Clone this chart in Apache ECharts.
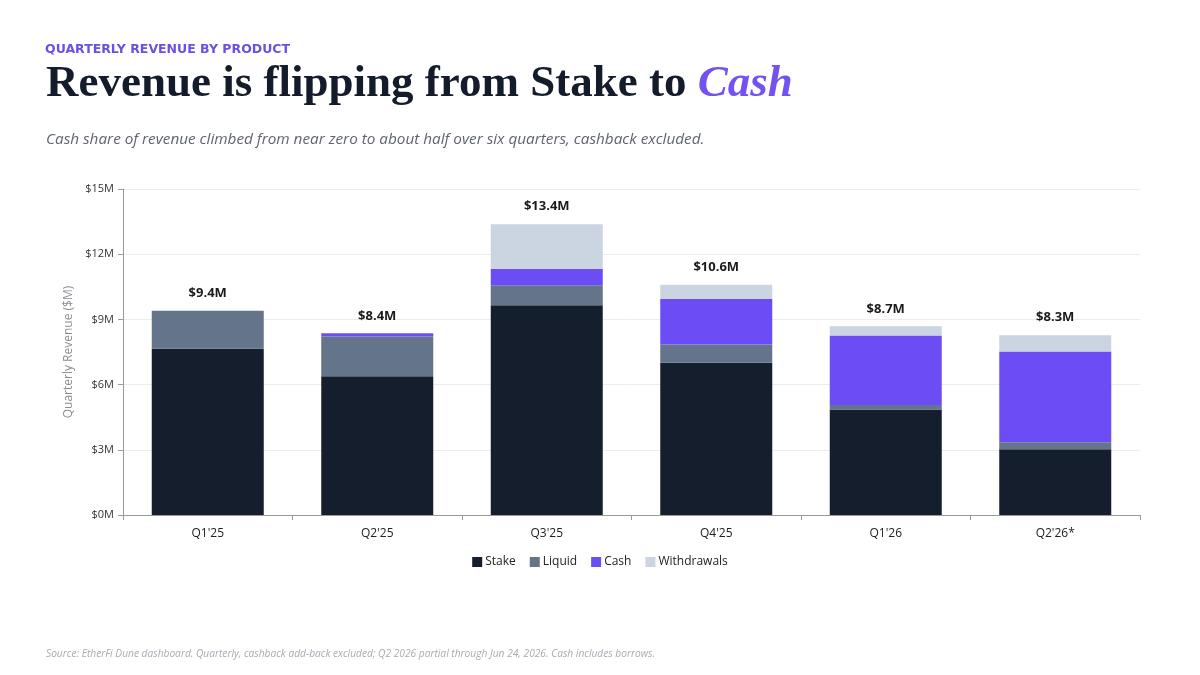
<!DOCTYPE html>
<html>
<head>
<meta charset="utf-8">
<script src="https://cdn.jsdelivr.net/npm/echarts@6/dist/echarts.min.js"></script>
<style>
  html, body { margin: 0; padding: 0; background: #fff; }
  #chart { width: 1200px; height: 675px; }
</style>
</head>
<body>
<div id="chart"></div>
<script>
'use strict'

// quarterly revenue by product, $M
const quarters = ["Q1'25", "Q2'25", "Q3'25", "Q4'25", "Q1'26", "Q2'26*"];
const stake = [7.65, 6.38, 9.65, 7.00, 4.86, 3.02];
const liquid = [1.75, 1.83, 0.92, 0.85, 0.20, 0.33];
const cash = [0.00, 0.15, 0.76, 2.10, 3.20, 4.17];
const withdrawals = [0.00, 0.00, 2.05, 0.65, 0.42, 0.75];
const yTicks = [0, 3, 6, 9, 12, 15];

const colors = {
    stake: '#141e2d',
    liquid: '#64748b',
    cash: '#6c4cf5',
    withdrawals: '#cbd5e1'
};

const totals = quarters.map((q, i) => stake[i] + liquid[i] + cash[i] + withdrawals[i]);

const chart = echarts.init(document.getElementById('chart'));

function barSeries(name, data, color, withLabel)
{
    const s = {
        name: name,
        type: 'bar',
        stack: 'rev',
        data: data,
        barWidth: 112,
        itemStyle: { color: color },
        emphasis: { disabled: true }
    };
    if (withLabel) {
        s.label = {
            show: true,
            position: 'top',
            distance: 11,
            fontFamily: 'Open Sans',
            fontWeight: 'bold',
            fontSize: 13,
            color: '#1a1a1a',
            formatter: p => '$' + totals[p.dataIndex].toFixed(1) + 'M'
        };
    }
    return s;
}

const option = {
    backgroundColor: '#ffffff',
    animation: false,
    title: [
        {
            text: 'QUARTERLY REVENUE BY PRODUCT',
            left: 40,
            top: 38,
            textStyle: {
                fontFamily: 'DejaVu Sans',
                fontSize: 12.5,
                fontWeight: 'bold',
                color: '#6d4fe6'
            }
        },
        {
            text: '{a|Revenue is flipping from Stake to }{b|Cash}',
            left: 41,
            top: 57,
            textStyle: {
                rich: {
                    a: { fontFamily: 'Liberation Serif', fontWeight: 'bold', fontSize: 45, color: '#141c2b' },
                    b: { fontFamily: 'Liberation Serif', fontWeight: 'bold', fontStyle: 'italic', fontSize: 45, color: '#7352f0' }
                }
            }
        },
        {
            text: 'Cash share of revenue climbed from near zero to about half over six quarters, cashback excluded.',
            left: 41,
            top: 127,
            textStyle: {
                fontFamily: 'Open Sans',
                fontStyle: 'italic',
                fontWeight: 'normal',
                fontSize: 15.3,
                color: '#5f6470'
            }
        },
        {
            text: 'Source: EtherFi Dune dashboard. Quarterly, cashback add-back excluded; Q2 2026 partial through Jun 24, 2026. Cash includes borrows.',
            left: 41,
            top: 644,
            textStyle: {
                fontFamily: 'Open Sans',
                fontStyle: 'italic',
                fontWeight: 'normal',
                fontSize: 10.2,
                color: '#a8abb2'
            }
        }
    ],
    legend: {
        bottom: 102,
        left: 'center',
        itemWidth: 10,
        itemHeight: 10,
        itemGap: 14,
        icon: 'rect',
        textStyle: { fontFamily: 'Open Sans', fontSize: 12, color: '#222', padding: [0, 0, 0, -2] },
        data: ['Stake', 'Liquid', 'Cash', 'Withdrawals']
    },
    grid: {
        left: 123,
        right: 60,
        top: 189,
        bottom: 160
    },
    xAxis: {
        type: 'category',
        data: quarters,
        axisLine: { lineStyle: { color: '#9a9a9a', width: 1 } },
        axisTick: { show: true, length: 5, lineStyle: { color: '#9a9a9a' } },
        axisLabel: { fontFamily: 'Open Sans', fontSize: 12, color: '#222', margin: 13 }
    },
    yAxis: {
        type: 'value',
        min: yTicks[0],
        max: yTicks[yTicks.length - 1],
        interval: yTicks[1] - yTicks[0],
        name: 'Quarterly Revenue ($M)',
        nameLocation: 'middle',
        nameGap: 46,
        nameTextStyle: { fontFamily: 'Open Sans', fontSize: 12, color: '#8a8d94' },
        axisLine: { show: true, lineStyle: { color: '#9a9a9a' } },
        axisTick: { show: true, length: 5, lineStyle: { color: '#9a9a9a' } },
        axisLabel: {
            fontFamily: 'Open Sans',
            fontSize: 11,
            color: '#333',
            margin: 9,
            formatter: v => '$' + v + 'M'
        },
        splitLine: { lineStyle: { color: '#ececec' } }
    },
    series: [
        barSeries('Stake', stake, colors.stake, false),
        barSeries('Liquid', liquid, colors.liquid, false),
        barSeries('Cash', cash, colors.cash, false),
        barSeries('Withdrawals', withdrawals, colors.withdrawals, true)
    ]
};

chart.setOption(option);
</script>
</body>
</html>
